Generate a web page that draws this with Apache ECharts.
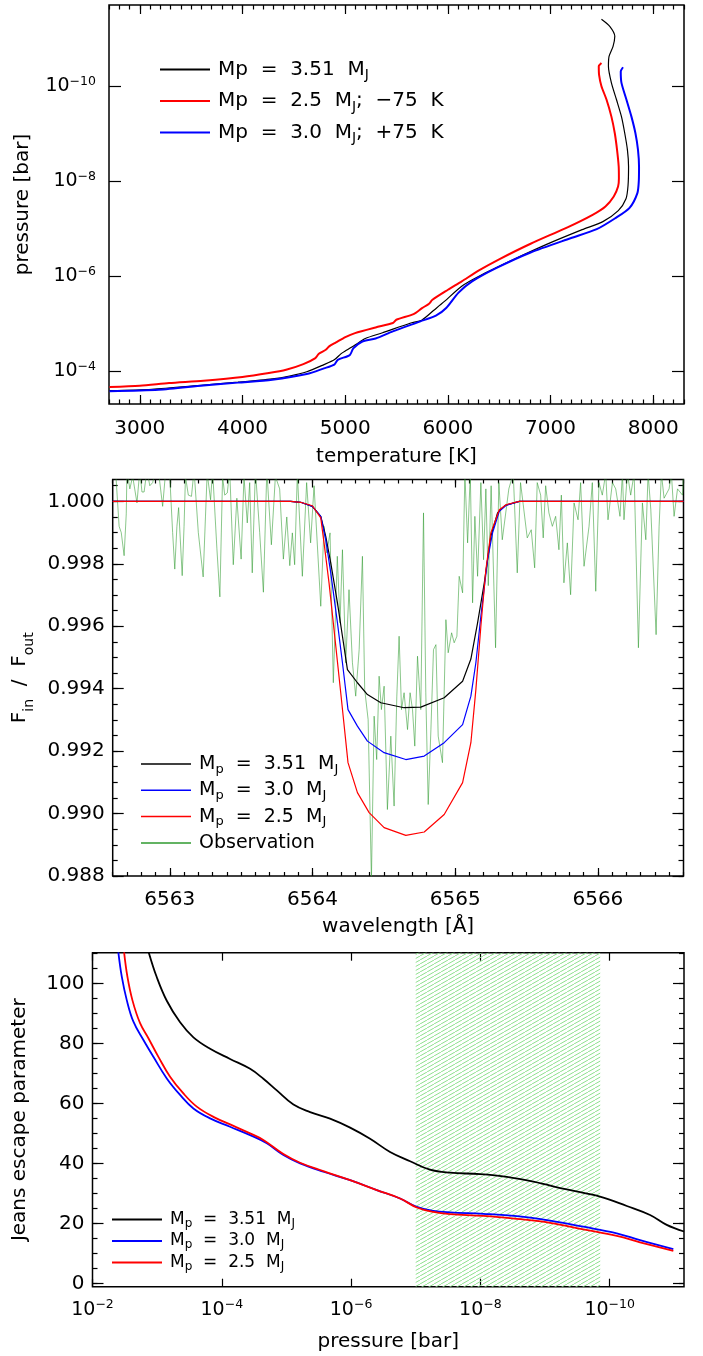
<!DOCTYPE html>
<html><head><meta charset="utf-8">
<script src="https://cdn.jsdelivr.net/npm/echarts@6/dist/echarts.min.js"></script>
<style>html,body{margin:0;padding:0;background:#fff}#c{width:703px;height:1356px}</style>
</head><body><div id="c"></div>
<script>
// ---------- Panel 1: temperature [K] vs log10 pressure [bar] ----------
const tp351 = [[2705,-3.58],[3117,-3.61],[3620,-3.70],[3956,-3.76],[4291,-3.83],[4459,-3.89],[4626,-3.98],[4794,-4.13],[4894,-4.23],[4961,-4.36],[5012,-4.43],[5096,-4.54],[5196,-4.68],[5364,-4.80],[5632,-5.00],[5749,-5.07],[5867,-5.28],[5967,-5.46],[6135,-5.78],[6303,-5.99],[6638,-6.34],[6973,-6.67],[7308,-6.97],[7510,-7.14],[7660,-7.37],[7735,-7.62],[7755,-7.90],[7760,-8.30],[7749,-8.65],[7723,-9.0],[7691,-9.35],[7642,-9.71],[7593,-10.06],[7564,-10.41],[7570,-10.62],[7609,-10.83],[7626,-11.04],[7577,-11.25],[7496,-11.40]];
const tp25 = [[2705,-3.656],[3000,-3.684],[3285,-3.74],[3620,-3.79],[3999,-3.867],[4257,-3.951],[4425,-4.021],[4593,-4.14],[4710,-4.267],[4744,-4.358],[4811,-4.442],[4844,-4.512],[4911,-4.596],[5002,-4.709],[5096,-4.793],[5297,-4.912],[5465,-5.004],[5498,-5.074],[5666,-5.193],[5749,-5.319],[5817,-5.411],[5850,-5.495],[6001,-5.705],[6135,-5.881],[6303,-6.112],[6504,-6.351],[6806,-6.674],[7165,-7.02],[7410,-7.284],[7535,-7.46],[7616,-7.67],[7658,-7.88],[7666,-8.05],[7664,-8.30],[7648,-8.65],[7626,-9.0],[7593,-9.35],[7545,-9.71],[7496,-9.99],[7473,-10.23],[7470,-10.41],[7496,-10.48]];
const tp30 = [[2705,-3.57],[3184,-3.60],[3620,-3.69],[3956,-3.75],[4291,-3.81],[4626,-3.93],[4794,-4.05],[4894,-4.13],[4928,-4.23],[5045,-4.33],[5079,-4.47],[5163,-4.61],[5297,-4.68],[5464,-4.83],[5733,-5.04],[5884,-5.16],[5984,-5.32],[6102,-5.64],[6236,-5.88],[6470,-6.16],[6806,-6.49],[7195,-6.79],[7450,-6.98],[7630,-7.21],[7770,-7.43],[7846,-7.74],[7860,-8.0],[7862,-8.30],[7852,-8.65],[7827,-9.0],[7788,-9.35],[7739,-9.71],[7691,-10.06],[7684,-10.30],[7706,-10.39]];
const p1XMajor = [3000,4000,5000,6000,7000,8000];
const p1YMajor = [-10,-8,-6,-4];

// ---------- Panel 2: wavelength [A] vs Fin/Fout ----------
const sp351 = [[6562.6,1],[6563.847,1],[6563.917,0.99997],[6563.999,0.99984],[6564.058,0.99952],[6564.093,0.99888],[6564.128,0.99803],[6564.175,0.99675],[6564.21,0.99568],[6564.245,0.99461],[6564.315,0.99419],[6564.385,0.99381],[6564.479,0.99355],[6564.642,0.99339],[6564.759,0.99341],[6564.923,0.99371],[6565.052,0.99424],[6565.11,0.99495],[6565.157,0.99611],[6565.204,0.99739],[6565.25,0.99888],[6565.297,0.99963],[6565.35,0.99987],[6565.45,1],[6566.6,1]];
const sp30 = [[6562.6,1],[6563.847,1],[6563.917,0.99997],[6563.999,0.99984],[6564.058,0.99952],[6564.093,0.99877],[6564.128,0.99771],[6564.175,0.99611],[6564.21,0.99483],[6564.249,0.99333],[6564.315,0.9928],[6564.385,0.99232],[6564.502,0.99195],[6564.654,0.99173],[6564.783,0.99184],[6564.923,0.99227],[6565.052,0.99285],[6565.11,0.99376],[6565.145,0.99483],[6565.18,0.99632],[6565.227,0.99813],[6565.262,0.99899],[6565.309,0.99968],[6565.36,0.99988],[6565.45,1],[6566.6,1]];
const sp25 = [[6562.6,1],[6563.847,1],[6563.917,0.99997],[6563.999,0.99986],[6564.058,0.99947],[6564.081,0.99867],[6564.116,0.99739],[6564.151,0.99589],[6564.198,0.99387],[6564.249,0.99163],[6564.315,0.99067],[6564.397,0.99003],[6564.502,0.98955],[6564.654,0.9893],[6564.783,0.98941],[6564.923,0.98997],[6565.052,0.99099],[6565.11,0.99227],[6565.145,0.99397],[6565.18,0.996],[6565.215,0.99781],[6565.25,0.99899],[6565.309,0.99973],[6565.36,0.9999],[6565.45,1],[6566.6,1]];
const obs = [[6562.600,1.0009],[6562.620,1.0010],[6562.645,0.9992],[6562.660,0.9990],[6562.680,0.99826],[6562.695,0.9996],[6562.700,1.0010],[6562.720,1.0004],[6562.740,1.0008],[6562.770,0.99995],[6562.790,1.0010],[6562.805,1.0003],[6562.820,1.0003],[6562.840,1.0010],[6562.860,1.0005],[6562.880,1.0006],[6562.900,1.0010],[6562.920,1.0010],[6562.950,0.99984],[6562.970,1.0009],[6563.000,1.0008],[6563.020,0.9990],[6563.035,0.99783],[6563.050,0.9992],[6563.062,0.9998],[6563.087,0.99762],[6563.100,0.9992],[6563.110,1.0008],[6563.130,1.0002],[6563.152,1.00016],[6563.170,1.0010],[6563.200,0.9990],[6563.234,0.99758],[6563.250,0.9995],[6563.262,1.0009],[6563.286,1.00005],[6563.300,1.0010],[6563.330,0.9985],[6563.351,0.99694],[6563.370,1.0008],[6563.385,1.0002],[6563.403,1.00027],[6563.420,1.0010],[6563.445,0.99797],[6563.470,1.0001],[6563.500,0.99815],[6563.520,1.0008],[6563.543,0.99931],[6563.560,1.0006],[6563.578,0.99771],[6563.600,1.0010],[6563.630,0.9990],[6563.656,0.99709],[6563.680,1.0010],[6563.712,0.99861],[6563.740,1.0008],[6563.770,1.0004],[6563.796,0.99815],[6563.820,0.9995],[6563.841,0.99794],[6563.859,0.99899],[6563.875,0.99797],[6563.894,1.0009],[6563.929,0.9976],[6563.959,1.0006],[6563.987,0.99867],[6564.011,1.0005],[6564.058,0.99664],[6564.081,0.9992],[6564.100,0.99835],[6564.123,0.99899],[6564.146,0.99419],[6564.174,0.99824],[6564.193,0.99611],[6564.210,0.99845],[6564.233,0.99483],[6564.256,0.99717],[6564.280,0.99483],[6564.303,0.99376],[6564.327,0.99525],[6564.350,0.99824],[6564.366,0.99397],[6564.390,0.99301],[6564.413,0.98789],[6564.432,0.99312],[6564.450,0.99173],[6564.467,0.99440],[6564.483,0.99333],[6564.502,0.99408],[6564.525,0.99013],[6564.549,0.99248],[6564.572,0.99024],[6564.591,0.99376],[6564.607,0.99568],[6564.624,0.99333],[6564.642,0.99387],[6564.666,0.99269],[6564.684,0.99387],[6564.701,0.99333],[6564.717,0.99216],[6564.736,0.99504],[6564.759,0.99333],[6564.778,0.99963],[6564.794,0.99387],[6564.811,0.99029],[6564.830,0.99269],[6564.848,0.99525],[6564.865,0.99541],[6564.881,0.99248],[6564.911,0.99163],[6564.935,0.99621],[6564.951,0.99515],[6564.975,0.99579],[6564.993,0.99547],[6565.012,0.99568],[6565.028,0.99760],[6565.052,0.99707],[6565.068,1.0009],[6565.087,0.99867],[6565.106,1.0009],[6565.122,0.99675],[6565.138,0.99952],[6565.157,0.99760],[6565.180,1.0006],[6565.199,0.99813],[6565.215,1.0004],[6565.232,0.9973],[6565.252,1.0005],[6565.283,0.99531],[6565.306,1.0006],[6565.330,0.99877],[6565.376,1.0004],[6565.407,1.0009],[6565.435,0.99771],[6565.458,1.0006],[6565.477,0.99989],[6565.505,0.99883],[6565.533,0.99909],[6565.557,0.99787],[6565.575,1.0006],[6565.599,1.0002],[6565.617,0.99883],[6565.634,1.0005],[6565.657,0.99963],[6565.681,0.9992],[6565.704,0.99952],[6565.727,0.99845],[6565.744,1.0002],[6565.762,0.99739],[6565.786,0.99867],[6565.809,0.99701],[6565.833,0.99995],[6565.861,0.99941],[6565.879,1.0006],[6565.903,0.99792],[6565.938,0.9992],[6565.961,1.0006],[6565.985,0.99712],[6566.008,1.0006],[6566.031,1.0002],[6566.055,1.0009],[6566.071,0.99941],[6566.102,1.0006],[6566.125,1.0004],[6566.155,0.99952],[6566.172,1.0009],[6566.183,0.99941],[6566.207,1.0009],[6566.230,1.0002],[6566.254,1.0009],[6566.284,0.99531],[6566.312,0.99995],[6566.336,0.99877],[6566.352,1.0009],[6566.371,0.99973],[6566.408,0.99573],[6566.429,0.9992],[6566.445,1.0009],[6566.464,1.0001],[6566.499,1.0004],[6566.515,1.0009],[6566.534,0.99952],[6566.558,1.0004],[6566.593,1.0002],[6566.600,1.0009]];
const p2XMajor = [6563,6564,6565,6566];
const p2YMajor = [0.988,0.990,0.992,0.994,0.996,0.998,1.000];

// ---------- Panel 3: log10 pressure [bar] vs Jeans escape parameter ----------
const jp351 = [[-2.87,110.3],[-2.995,102],[-3.149,94.2],[-3.355,87.0],[-3.561,82.0],[-3.819,78.2],[-4.128,74.8],[-4.438,71.5],[-4.643,68.2],[-4.851,64.3],[-5.108,59.6],[-5.366,57.1],[-5.675,54.9],[-5.985,51.9],[-6.294,48.2],[-6.603,43.8],[-6.913,40.7],[-7.22,37.9],[-7.53,36.9],[-7.995,36.4],[-8.41,35.5],[-8.82,33.9],[-9.336,31.3],[-9.85,28.9],[-10.265,25.8],[-10.625,22.8],[-10.883,19.5],[-11.15,17.3]];
const jp30 = [[-2.40,110.3],[-2.453,102.2],[-2.53,94.4],[-2.633,87.2],[-2.788,81.1],[-2.942,75.5],[-3.149,68.3],[-3.355,62.8],[-3.561,58.3],[-3.819,55.0],[-4.128,52.2],[-4.438,49.4],[-4.696,46.7],[-4.953,42.8],[-5.211,40.0],[-5.572,37.2],[-5.985,34.4],[-6.398,31.1],[-6.758,28.3],[-7.016,25.5],[-7.273,24.2],[-7.53,23.7],[-8.046,23.2],[-8.563,22.4],[-9.078,20.9],[-9.593,18.9],[-10.11,16.7],[-10.47,14.4],[-10.985,11.4]];
const jp25 = [[-2.489,110.3],[-2.54,102.2],[-2.617,94.4],[-2.736,86.7],[-2.865,81.7],[-3.02,75.5],[-3.2,68.9],[-3.406,63.3],[-3.613,58.9],[-3.87,55.5],[-4.18,52.5],[-4.438,50.0],[-4.643,47.8],[-4.953,43.1],[-5.211,40.2],[-5.572,37.4],[-5.985,34.4],[-6.398,31.1],[-6.758,28.3],[-7.016,25.3],[-7.273,23.8],[-7.53,23.1],[-8.046,22.5],[-8.563,21.5],[-9.078,20.2],[-9.593,18.0],[-10.11,15.8],[-10.47,13.7],[-10.985,10.8]];
const hatchPressure = [1e-7, 1.4e-10];
const p3XMajor = [-2,-4,-6,-8,-10];
const p3YMajor = [0,20,40,60,80,100];

// ---------- helpers ----------
const FONT = 'DejaVu Sans';
const BLACK = '#000000', RED = '#ff0000', BLUE = '#0000ff', GREEN = '#2f9a2f';
function range(a, b, step) { const out = []; const n = Math.round((b - a) / step); for (let i = 0; i <= n; i++) out.push(+(a + i * step).toFixed(5)); return out; }
const tickLine = {color: '#000', width: 1.2};
function tickAxis(gridIndex, position, min, max, ticks, len, inverse) {
  return {type: 'value', gridIndex, position, min, max, inverse: !!inverse, silent: true,
    axisLine: {show: false, onZero: false}, splitLine: {show: false}, axisLabel: {show: false},
    axisTick: {show: true, inside: true, length: len, customValues: ticks, lineStyle: tickLine}};
}
function labelAxis(gridIndex, position, min, max, ticks, len, inverse, label, name, nameGap, nameStyle) {
  const a = tickAxis(gridIndex, position, min, max, ticks, len, inverse);
  a.axisLabel = Object.assign({show: true, customValues: ticks, color: '#000', fontFamily: FONT, fontSize: 20, lineHeight: 20,
    formatter: v => String(v)}, label);
  a.name = name; a.nameLocation = 'middle'; a.nameGap = nameGap;
  a.nameTextStyle = Object.assign({color: '#000', fontFamily: FONT, fontSize: 20, lineHeight: 20}, nameStyle || {});
  return a;
}
const expRich = {
  b: {fontFamily: FONT, fontSize: 19, lineHeight: 22, color: '#000', verticalAlign: 'middle'},
  u: {fontFamily: FONT, fontSize: 12.5, lineHeight: 14, color: '#000', verticalAlign: 'top'}
};
const expFmt = v => '{b|10}{u|\u2212' + Math.round(-v) + '}';

const xMin1 = 2700, xMax1 = 8300, yMin1 = -11.7, yMax1 = -3.3;
const xMin2 = 6562.6, xMax2 = 6566.6, yMin2 = 0.988, yMax2 = 1.0007;
const xMin3 = -11.15, xMax3 = -2, yMin3 = -1.1, yMax3 = 110.2;

const xAxis = [
  labelAxis(0, 'bottom', xMin1, xMax1, p1XMajor, 9, false, {margin: 15}, 'temperature [K]', 43),
  tickAxis(0, 'bottom', xMin1, xMax1, range(2700, 8300, 100), 4.5),
  tickAxis(0, 'top', xMin1, xMax1, p1XMajor, 9),
  tickAxis(0, 'top', xMin1, xMax1, range(2700, 8300, 100), 4.5),
  labelAxis(1, 'bottom', xMin2, xMax2, p2XMajor, 8, false, {margin: 14}, 'wavelength [\u00c5]', 41),
  tickAxis(1, 'bottom', xMin2, xMax2, range(6562.6, 6566.6, 0.1), 4),
  tickAxis(1, 'top', xMin2, xMax2, p2XMajor, 8),
  tickAxis(1, 'top', xMin2, xMax2, range(6562.6, 6566.6, 0.1), 4),
  labelAxis(2, 'bottom', xMin3, xMax3, p3XMajor, 8, true, {margin: 12, formatter: expFmt, rich: expRich, lineHeight: 22}, 'pressure [bar]', 45),
  tickAxis(2, 'top', xMin3, xMax3, p3XMajor, 8, true)
];
const yAxis = [
  labelAxis(0, 'left', yMin1, yMax1, p1YMajor, 12, true, {margin: 13, formatter: expFmt, rich: expRich, lineHeight: 22}, 'pressure [bar]', 76),
  tickAxis(0, 'right', yMin1, yMax1, p1YMajor, 12, true),
  labelAxis(1, 'left', yMin2, yMax2, p2YMajor, 11, false, {margin: 8, formatter: v => v.toFixed(3)},
    '{t|F}{s|in}{t|  /  F}{s|out}', 76,
    {rich: {t: {fontFamily: FONT, fontSize: 20, lineHeight: 34, color: '#000', verticalAlign: 'middle'},
            s: {fontFamily: FONT, fontSize: 14, lineHeight: 12, color: '#000', verticalAlign: 'bottom'}}}),
  tickAxis(1, 'left', yMin2, yMax2, range(0.988, 1.0005, 0.0005), 5),
  tickAxis(1, 'right', yMin2, yMax2, p2YMajor, 11),
  tickAxis(1, 'right', yMin2, yMax2, range(0.988, 1.0005, 0.0005), 5),
  labelAxis(2, 'left', yMin3, yMax3, p3YMajor, 11, false, {margin: 8}, 'Jeans escape parameter', 63),
  tickAxis(2, 'left', yMin3, yMax3, range(0, 110, 5), 5),
  tickAxis(2, 'right', yMin3, yMax3, p3YMajor, 11),
  tickAxis(2, 'right', yMin3, yMax3, range(0, 110, 5), 5)
];

// hatch pattern
const pc = document.createElement('canvas'); pc.width = 7; pc.height = 4;
const pctx = pc.getContext('2d'); pctx.strokeStyle = '#8ee08e'; pctx.lineWidth = 1;
pctx.beginPath(); for (const dx of [-7, 0, 7]) { pctx.moveTo(dx, 4); pctx.lineTo(dx + 7, 0); } pctx.stroke();

function line(name, data, color, width, xi, yi, extra) {
  return Object.assign({type: 'line', name, data, xAxisIndex: xi, yAxisIndex: yi, symbol: 'none', showSymbol: false,
    color, itemStyle: {color}, lineStyle: {color, width}, silent: true, z: 3}, extra || {});
}

const N1 = ['Mp = 3.51 MJ', 'Mp = 2.5 MJ; \u221275 K', 'Mp = 3.0 MJ; +75 K'];
const N2 = ['M_p = 3.51 M_J', 'M_p = 3.0 M_J', 'M_p = 2.5 M_J', 'Observation'];
const fmt = {};
fmt[N1[0]] = '{t|Mp  =  3.51  M}{s|J}';
fmt[N1[1]] = '{t|Mp  =  2.5  M}{s|J}{t|;  \u221275  K}';
fmt[N1[2]] = '{t|Mp  =  3.0  M}{s|J}{t|;  +75  K}';
fmt[N2[0]] = '{t|M}{s|p}{t|  =  3.51  M}{s|J}';
fmt[N2[1]] = '{t|M}{s|p}{t|  =  3.0  M}{s|J}';
fmt[N2[2]] = '{t|M}{s|p}{t|  =  2.5  M}{s|J}';
fmt[N2[3]] = '{t|Observation}';
function legendRich(fs, lh, sfs, slh) {
  return {t: {fontFamily: FONT, fontSize: fs, lineHeight: lh, color: '#000', verticalAlign: 'middle'},
          s: {fontFamily: FONT, fontSize: sfs, lineHeight: slh, color: '#000', verticalAlign: 'bottom'}};
}
function legend(names, left, top, gap, ih, rich, lh) {
  return {data: names, left, top, orient: 'vertical', icon: 'rect', itemWidth: 50, itemHeight: ih, itemGap: gap,
    padding: 0, selectedMode: false, formatter: n => fmt[n],
    textStyle: {fontFamily: FONT, fontSize: rich.t.fontSize, lineHeight: lh, color: '#000', padding: [0, 0, 0, 3], rich}};
}

const option = {
  animation: false,
  backgroundColor: '#fff',
  textStyle: {fontFamily: FONT},
  grid: [
    {left: 109, top: 5, width: 575, height: 399, show: true, borderColor: '#000', borderWidth: 1.5, backgroundColor: 'transparent', outerBoundsMode: 'none'},
    {left: 112.7, top: 479.5, width: 570.8, height: 396.5, show: true, borderColor: '#000', borderWidth: 1.5, backgroundColor: 'transparent', outerBoundsMode: 'none'},
    {left: 92.5, top: 952.7, width: 591.5, height: 334, show: true, borderColor: '#000', borderWidth: 1.5, backgroundColor: 'transparent', outerBoundsMode: 'none'}
  ],
  xAxis, yAxis,
  legend: [
    legend(N1, 160, 56.5, 5.5, 2, legendRich(20, 26, 14, 15), 26),
    legend(N2, 141, 752, 2.3, 1.5, legendRich(19, 24, 13, 13), 24),
    legend(N2.slice(0, 3), 112, 1209.5, 1.5, 2, legendRich(17, 20, 12, 12), 20)
  ],
  series: [
    line(N1[0], tp351, BLACK, 1.2, 0, 0, {smooth: 0.25}),
    line(N1[1], tp25, RED, 2, 0, 0, {smooth: 0.25}),
    line(N1[2], tp30, BLUE, 2, 0, 0, {smooth: 0.25}),
    line(N2[3], obs, GREEN, 0.7, 4, 2, {lineStyle: {color: GREEN, width: 0.7, opacity: 0.8}, z: 2}),
    line(N2[0], sp351, BLACK, 1.2, 4, 2),
    line(N2[1], sp30, BLUE, 1.2, 4, 2),
    line(N2[2], sp25, RED, 1.2, 4, 2),
    line(N2[0], jp351, BLACK, 1.8, 8, 6, {smooth: 0.4, markArea: {silent: true, itemStyle: {color: {image: pc, repeat: 'repeat'}, opacity: 1},
      data: [[{xAxis: Math.log10(hatchPressure[0]), yAxis: yMin3}, {xAxis: Math.log10(hatchPressure[1]), yAxis: yMax3}]]}}),
    line(N2[1], jp30, BLUE, 1.8, 8, 6, {smooth: 0.4}),
    line(N2[2], jp25, RED, 1.8, 8, 6, {smooth: 0.4})
  ]
};
const chart = echarts.init(document.getElementById('c'));
chart.setOption(option);
</script></body></html>
